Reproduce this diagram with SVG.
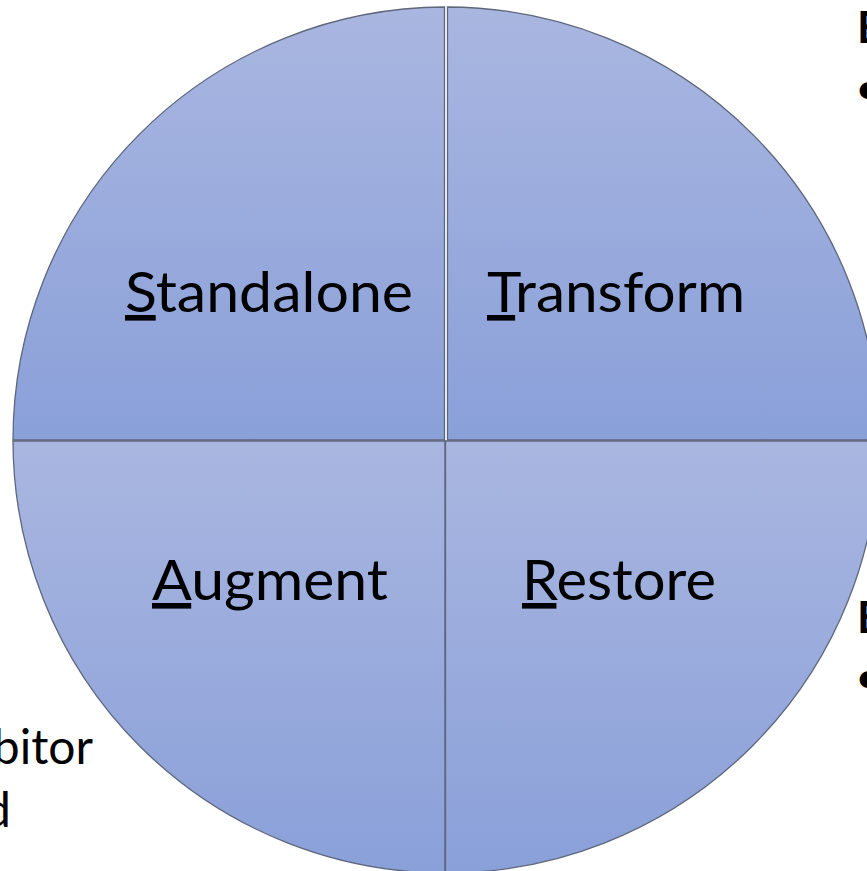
<svg xmlns="http://www.w3.org/2000/svg" width="867" height="871" viewBox="0 0 867 871">
<style>
.q{stroke:#5d667a;stroke-width:1.3}
.lbl{font-family:Lato,"Open Sans","Liberation Sans",sans-serif;font-size:56px;fill:#000}
.edge{font-family:Lato,"Open Sans","Liberation Sans",sans-serif;font-size:44px;fill:#000}
.side{font-family:Lato,"Open Sans","Liberation Sans",sans-serif;font-size:48px;fill:#000}
.u{text-decoration:underline}
</style>
<defs>
<linearGradient id="gt" gradientUnits="userSpaceOnUse" x1="0" y1="7" x2="0" y2="440">
<stop offset="0" stop-color="#A9B6E0"/><stop offset="1" stop-color="#8AA0D9"/>
</linearGradient>
<linearGradient id="gb" gradientUnits="userSpaceOnUse" x1="0" y1="441" x2="0" y2="873">
<stop offset="0" stop-color="#A9B6E0"/><stop offset="1" stop-color="#8AA0D9"/>
</linearGradient>
</defs>
<rect width="867" height="871" fill="#fff"/>
<g id="standalone">
<path class="q" fill="url(#gt)" d="M444.5,440 L13,440 A433,433 0 0 1 444.5,7 Z"/>
<text class="lbl" x="125" y="312" textLength="288" lengthAdjust="spacingAndGlyphs"><tspan class="u">S</tspan>tandalone</text>
</g>
<g id="transform">
<path class="q" fill="url(#gt)" d="M447.5,440 L447.5,7 A433,433 0 0 1 879,440 Z"/>
<text class="lbl" x="487" y="312" textLength="258" lengthAdjust="spacingAndGlyphs"><tspan class="u">T</tspan>ransform</text>
</g>
<g id="augment">
<path class="q" fill="url(#gb)" d="M445,441 L13,441 A433,433 0 0 0 445,873 Z"/>
<text class="lbl" x="152" y="600" textLength="236" lengthAdjust="spacingAndGlyphs"><tspan class="u">A</tspan>ugment</text>
</g>
<g id="restore">
<path class="q" fill="url(#gb)" d="M445.5,441 L879,441 A433,433 0 0 1 445.5,873 Z"/>
<text class="lbl" x="522" y="600" textLength="194" lengthAdjust="spacingAndGlyphs"><tspan class="u">R</tspan>estore</text>
</g>
<g id="connectors"></g>
<g id="side-text">
<text class="edge" x="857" y="43" font-weight="bold">E</text>
<text class="edge" x="855" y="104">•</text>
<text class="edge" x="857" y="633" font-weight="bold">E</text>
<text class="edge" x="855" y="693">•</text>
<text class="side" x="93" y="764" text-anchor="end">bitor</text>
<text class="side" x="11" y="827" text-anchor="end">d</text>
</g>
</svg>
